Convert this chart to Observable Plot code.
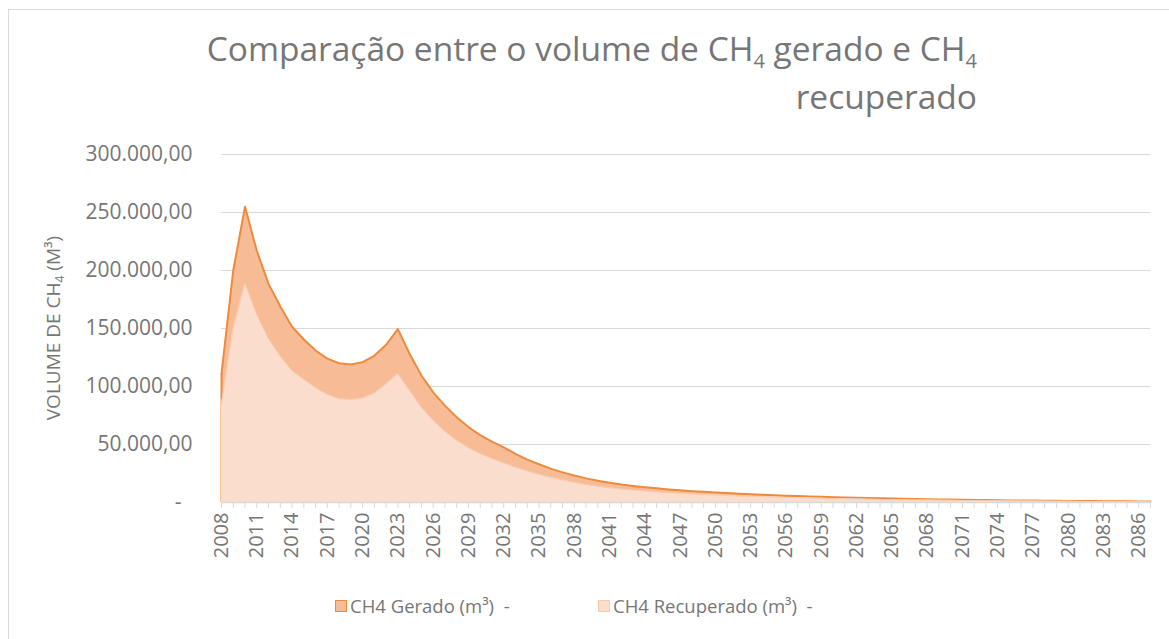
<!DOCTYPE html>
<html>
<head>
<meta charset="utf-8">
<script src="https://cdn.jsdelivr.net/npm/d3@7"></script>
<script src="https://cdn.jsdelivr.net/npm/@observablehq/plot@0.6"></script>
<style>
  body { margin: 0; background: #fff; }
  #wrap { position: relative; width: 1169px; height: 639px; overflow: hidden; background: #fff; font-family: "Open Sans", sans-serif; color: #767676; }
  #frame { position: absolute; left: 8px; top: 9px; width: 1300px; height: 800px; border: 1px solid #d9d9d9; }
  #title { position: absolute; right: 192px; top: 24px; text-align: right; font-size: 33.5px; line-height: 48px; color: #767676; white-space: nowrap; }
  #title sub { font-size: 20px; vertical-align: -7px; line-height: 0; }
  #chart { position: absolute; left: 0; top: 140px; }
  #legend { position: absolute; top: 593px; left: 0; width: 1169px; font-size: 18.5px; color: #767676; }
  .item { position: absolute; top: 0; white-space: pre; }
  .sw { position: absolute; top: 7px; width: 10px; height: 10px; }
</style>
</head>
<body>
<div id="wrap">
  <div id="frame"></div>
  <div id="title">Comparação entre o volume de CH<sub>4</sub> gerado e CH<sub>4</sub><br>recuperado</div>
  <div id="chart"></div>
  <div id="legend"></div>
</div>
<script>
const years = d3.range(2008, 2088);
const gerado = [
  111000, 200000, 255000, 217000, 188500, 169000, 151500, 140500, 131000, 124000,
  120000, 119000, 121000, 126500, 136000, 149500, 128000, 109500, 95000, 83500,
  73500, 65000, 58000, 52500, 47500, 42000, 37000, 33000, 29200, 26000,
  23200, 20800, 18700, 17000, 15500, 14300, 13200, 12200, 11300, 10500,
  9800, 9200, 8600, 8100, 7600, 7100, 6700, 6300, 5900, 5600,
  5200, 4900, 4600, 4350, 4100, 3850, 3600, 3400, 3200, 3000,
  2800, 2650, 2500, 2350, 2200, 2050, 1950, 1830, 1720, 1620,
  1520, 1430, 1350, 1270, 1190, 1120, 1050, 990, 930, 880
];
const recuperado = [
  85000, 150000, 189000, 162000, 141000, 126000, 113500, 106000, 99000, 93000,
  89500, 88500, 90000, 94000, 102000, 111000, 96500, 82000, 70700, 61200,
  53400, 47100, 42000, 37800, 34000, 30400, 27100, 24200, 21600, 19300,
  17200, 15400, 13900, 12600, 11500, 10600, 9800, 9000, 8400, 7800,
  7300, 6800, 6400, 6000, 5600, 5300, 5000, 4700, 4400, 4150,
  3850, 3650, 3400, 3200, 3050, 2850, 2650, 2500, 2350, 2200,
  2050, 1950, 1850, 1750, 1650, 1520, 1450, 1350, 1270, 1200,
  1120, 1060, 1000, 940, 880, 830, 780, 730, 690, 650
];
const yTicks = [0, 50000, 100000, 150000, 200000, 250000, 300000];
const xLabelYears = d3.range(2008, 2088, 3);
const seriesNames = ["CH4 Gerado (m³)  -", "CH4 Recuperado (m³)  -"];
const colors = {
  geradoFill: "#F7BC96", geradoLine: "#EE8A3D",
  recFill: "#FBDDCD", recLine: "#F7CBB0"
};

const data = years.map((year, i) => ({year, gerado: gerado[i], recuperado: recuperado[i]}));
const pt = d3.formatLocale({decimal: ",", thousands: ".", grouping: [3], currency: ["R$", ""]});
const fmt = pt.format(",.2f");
const tickFormat = d => d === 0 ? "-\u00a0\u00a0" : fmt(d);

const chart = Plot.plot({
  width: 1169,
  height: 440,
  marginLeft: 221,
  marginRight: 19,
  marginTop: 14,
  marginBottom: 78,
  x: {domain: [2008, 2087]},
  y: {domain: [0, 300000]},
  style: {fontFamily: "'Open Sans', sans-serif", fontSize: "20px", color: "#767676", background: "transparent"},
  marks: [
    Plot.gridY(yTicks, {stroke: "#d9d9d9", strokeOpacity: 1, strokeWidth: 1}),
    Plot.areaY(data, {x: "year", y: "gerado", fill: colors.geradoFill, curve: "linear"}),
    Plot.lineY(data, {x: "year", y: "gerado", stroke: colors.geradoLine, strokeWidth: 2}),
    Plot.ruleX(data.slice(0, 1), {x: "year", y1: 0, y2: "gerado", stroke: colors.geradoLine, strokeWidth: 2}),
    Plot.areaY(data, {x: "year", y: "recuperado", fill: colors.recFill}),
    Plot.lineY(data, {x: "year", y: "recuperado", stroke: colors.recLine, strokeWidth: 1}),
    Plot.ruleY([0], {stroke: "#d9d9d9", strokeWidth: 1.5}),
    Plot.axisY(yTicks, {tickSize: 0, tickPadding: 29, tickFormat, label: null, fontSize: 21}),
    Plot.axisX(years, {tickSize: 6, stroke: "#d9d9d9", tickFormat: () => "", label: null}),
    Plot.axisX(xLabelYears, {tickSize: 0, tickPadding: 10, tickRotate: -90, tickFormat: d => String(d), label: null, fontSize: 20})
  ]
});
document.getElementById("chart").appendChild(chart);

// y-axis title with subscript / superscript
const svg = d3.select(chart);
const yl = svg.append("text")
  .attr("transform", "translate(60,188) rotate(-90)")
  .attr("text-anchor", "middle")
  .attr("fill", "#767676")
  .attr("font-size", 19)
  .attr("font-family", "'Open Sans', sans-serif");
yl.append("tspan").text("VOLUME DE CH");
yl.append("tspan").attr("font-size", 12).attr("dy", 4).text("4");
yl.append("tspan").attr("dy", -4).text(" (M³)");

// legend
const legend = document.getElementById("legend");
const legendItems = [
  {name: seriesNames[0], fill: colors.geradoFill, stroke: colors.geradoLine, left: 335},
  {name: seriesNames[1], fill: colors.recFill, stroke: colors.recLine, left: 598}
];
for (const it of legendItems) {
  const sw = document.createElement("div");
  sw.className = "sw";
  sw.style.left = it.left + "px";
  sw.style.background = it.fill;
  sw.style.border = "1px solid " + it.stroke;
  legend.appendChild(sw);
  const t = document.createElement("div");
  t.className = "item";
  t.style.left = (it.left + 15) + "px";
  t.textContent = it.name;
  legend.appendChild(t);
}
</script>
</body>
</html>
